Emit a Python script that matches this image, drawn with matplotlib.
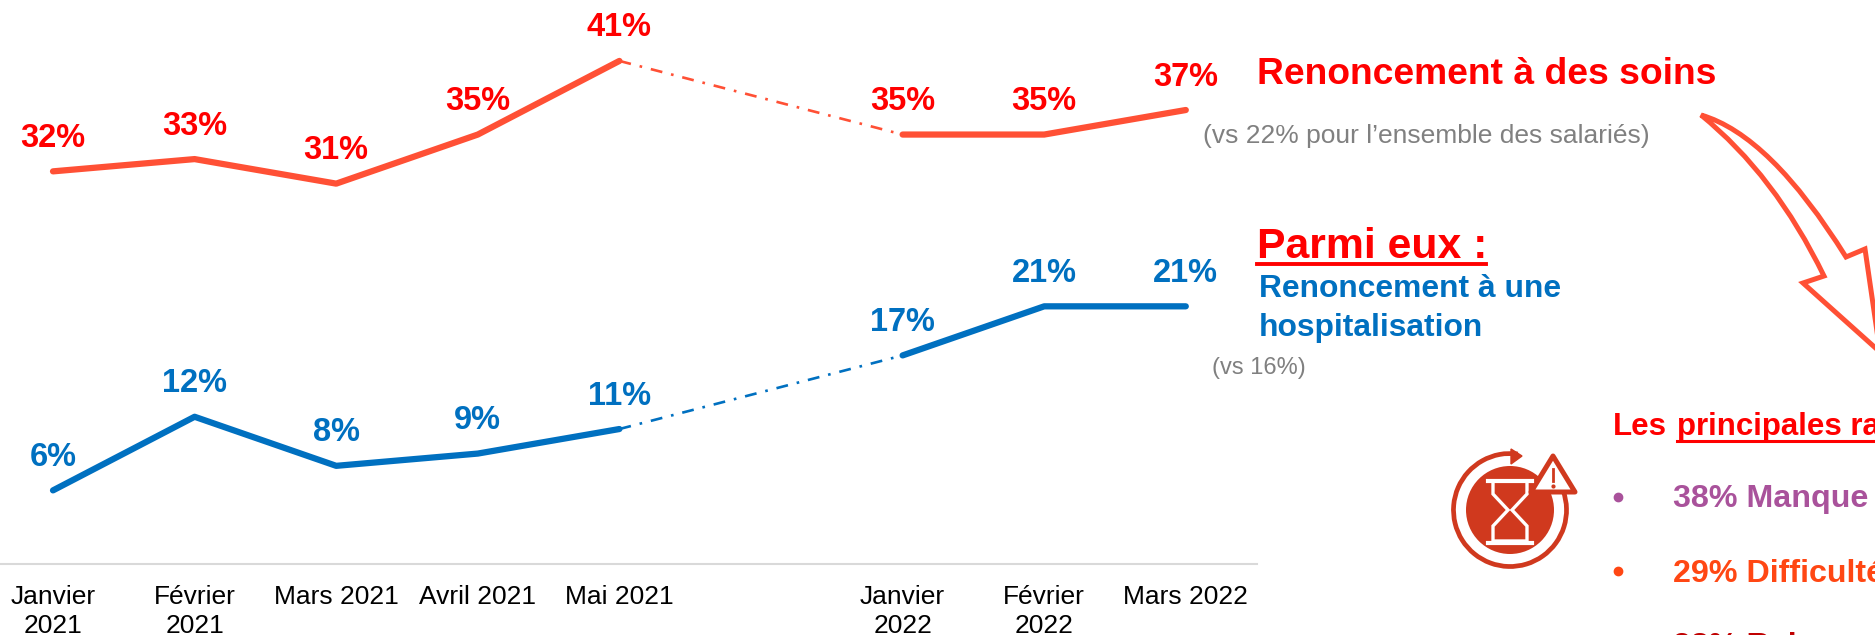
import numpy as np
import matplotlib
matplotlib.use('Agg')
import matplotlib.pyplot as plt
from matplotlib.patches import Circle, Polygon, PathPatch, Arc
from matplotlib.path import Path

plt.rcParams['font.family'] = ['Liberation Sans', 'DejaVu Sans']

labels = ['Janvier\n2021', 'Février\n2021', 'Mars 2021', 'Avril 2021', 'Mai 2021',
          'Janvier\n2022', 'Février\n2022', 'Mars 2022']
pos = [0, 1, 2, 3, 4, 6, 7, 8]
soins = [32, 33, 31, 35, 41, 35, 35, 37]
hospit = [6, 12, 8, 9, 11, 17, 21, 21]

ROUGE = '#FF0000'
ORANGE = '#FF5035'
BLEU = '#0070C0'
GRIS = '#808080'

fig = plt.figure(figsize=(18.75, 6.35), dpi=100)
# axe des donnees, cale sur les pixels de la figure
ax = fig.add_axes([0, 0, 1, 1])
ax.set_xlim(-53 / 141.6, (1875 - 53) / 141.6)
ax.set_ylim(-71 / 12.27, 564 / 12.27)
ax.axis('off')

# calque en pixels pour les annotations
pp = fig.add_axes([0, 0, 1, 1])
pp.set_xlim(0, 1875)
pp.set_ylim(635, 0)
pp.axis('off')
pp.patch.set_alpha(0)


def courbe(vals, col):
    ax.plot(pos[:5], vals[:5], color=col, lw=4.5, solid_capstyle='round')
    ax.plot(pos[5:], vals[5:], color=col, lw=4.5, solid_capstyle='round')
    ax.plot(pos[4:6], vals[4:6], color=col, lw=1.9, ls=(0, (4.5, 3.4, 1, 3.4)))


courbe(soins, ORANGE)
courbe(hospit, BLEU)

for x, v in zip(pos, soins):
    ax.annotate(f'{v}%', (x, v), xytext=(0, 33), textcoords='offset pixels', ha='center', va='center',
                color=ROUGE, fontsize=23.5, fontweight='bold')
for x, v in zip(pos, hospit):
    ax.annotate(f'{v}%', (x, v), xytext=(0, 33), textcoords='offset pixels', ha='center', va='center',
                color=BLEU, fontsize=23.5, fontweight='bold')

# ligne de base et mois
ax.axhline(0, xmin=0, xmax=1257 / 1875, color='#D9D9D9', lw=1.5)
for x, l in zip(pos, labels):
    ax.annotate(l, (x, 0), xytext=(0, -21), textcoords='offset pixels', ha='center', va='top',
                fontsize=19, color='black', linespacing=1.25)

# textes de droite
pp.text(1257, 84, 'Renoncement à des soins', color=ROUGE, fontsize=26.8, fontweight='bold', va='baseline')
pp.text(1203, 143, '(vs 22% pour l’ensemble des salariés)', color=GRIS, fontsize=19, va='baseline')
pp.text(1257, 258, 'Parmi eux :', color=ROUGE, fontsize=30.8, fontweight='bold', va='baseline')
pp.plot([1257, 1486], [264, 264], color=ROUGE, lw=2.8)
pp.text(1259, 297, 'Renoncement à une', color=BLEU, fontsize=22.9, fontweight='bold', va='baseline')
pp.text(1259, 336, 'hospitalisation', color=BLEU, fontsize=22.9, fontweight='bold', va='baseline')
pp.text(1212, 374, '(vs 16%)', color=GRIS, fontsize=17, va='baseline')

pp.text(1613, 435, 'Les', color=ROUGE, fontsize=22.5, fontweight='bold', va='baseline')
pp.text(1677, 435, 'principales ra', color=ROUGE, fontsize=22.5, fontweight='bold', va='baseline')
pp.plot([1677, 1875], [441, 441], color=ROUGE, lw=2.2)

pp.plot([1618], [497], 'o', color='#A9529B', ms=6)
pp.text(1673, 507, '38% Manque', color='#A9529B', fontsize=23.2, fontweight='bold', va='baseline')
pp.plot([1618], [571], 'o', color='#FF4713', ms=6)
pp.text(1673, 582, '29% Difficulté', color='#FF4713', fontsize=23.2, fontweight='bold', va='baseline')
pp.text(1673, 655, '28% Rai', color='#C00000', fontsize=23.2, fontweight='bold', va='baseline')

# fleche courbe
fl = [(Path.MOVETO, (1701, 115)),
      (Path.CURVE3, (1770, 135)), (Path.CURVE3, (1846, 257)),
      (Path.LINETO, (1865, 249)),
      (Path.LINETO, (1880, 352)),
      (Path.LINETO, (1803, 283)),
      (Path.LINETO, (1824, 276)),
      (Path.CURVE3, (1775, 175)), (Path.CURVE3, (1701, 115)),
      (Path.CLOSEPOLY, (1701, 115))]
codes, verts = zip(*fl)
pp.add_patch(PathPatch(Path(verts, codes), fc='white', ec=ORANGE, lw=3.6, joinstyle='miter'))

# icone sablier
ICONE = '#D0391E'
pp.add_patch(Circle((1510, 510), 44, color=ICONE, lw=0))
pp.add_patch(Arc((1510, 510), 113, 113, theta1=-20, theta2=278, ec=ICONE, lw=3.4))
pp.add_patch(Polygon([(1511, 449), (1522, 456), (1511, 464)], color=ICONE))
pp.add_patch(Polygon([(1493, 481), (1527, 481), (1527, 494), (1512, 510), (1527, 526), (1527, 541),
                      (1493, 541), (1493, 526), (1508, 510), (1493, 494)], fc=ICONE, ec='white', lw=2.4))
pp.plot([1488, 1532], [481, 481], color='white', lw=3)
pp.plot([1488, 1532], [543, 543], color='white', lw=3)
pp.add_patch(Polygon([(1553, 456), (1575, 492), (1531, 492)], fc='white', ec=ICONE, lw=3.6, joinstyle='round'))
pp.plot([1553, 1553], [469, 481], color=ICONE, lw=2)
pp.plot([1553], [486], 'o', color=ICONE, ms=2)

fig.savefig('out.png', dpi=100)
